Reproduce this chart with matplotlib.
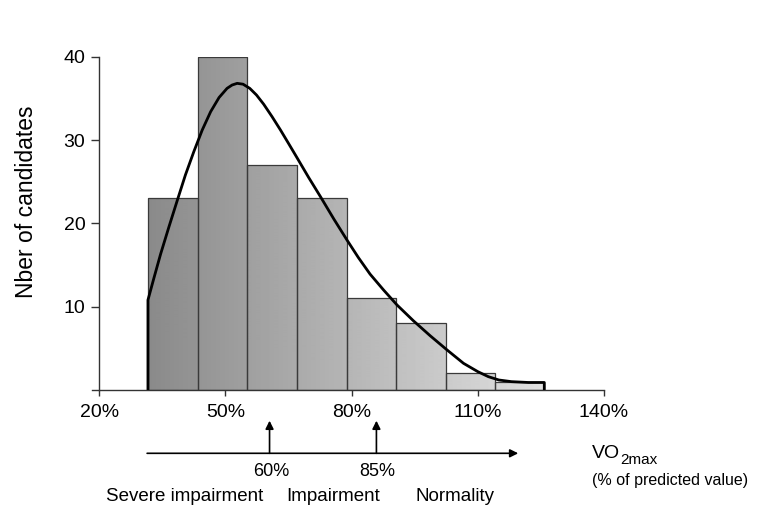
import numpy as np
import matplotlib
matplotlib.use("Agg")
import matplotlib.pyplot as plt

plt.rcParams['font.family'] = ['Liberation Sans', 'DejaVu Sans']

# histogram (VO2max % of predicted value)
bin_edges = [31.6, 43.4, 55.2, 67.0, 78.8, 90.6, 102.4, 114.1, 125.8]
counts = [23, 40, 27, 23, 11, 8, 2, 1]

# fitted density curve
curve_x = [31.6, 31.6, 33.0, 34.6, 36.6, 38.6, 40.5, 42.5, 44.5, 46.5, 48.5, 50.4,
           51.6, 52.8, 54.2, 55.8, 57.4, 59.1, 61.1, 63.1, 65.0, 67.0, 69.8, 72.6,
           75.8, 78.9, 81.6, 84.4, 87.6, 90.8, 94.7, 98.7, 102.7, 106.6, 110.0,
           112.5, 115.0, 118.0, 122.0, 125.8, 125.8]
curve_y = [0, 10.8, 13.4, 16.3, 19.6, 22.8, 25.8, 28.6, 31.2, 33.4, 35.1, 36.2,
           36.6, 36.8, 36.7, 36.2, 35.4, 34.3, 32.8, 31.2, 29.6, 27.9, 25.5, 23.2,
           20.5, 18.0, 15.9, 13.9, 12.0, 10.2, 8.3, 6.5, 4.8, 3.2, 2.2,
           1.6, 1.2, 1.0, 0.9, 0.9, 0]

xticks = [20, 50, 80, 110, 140]
xticklabels = ['20%', '50%', '80%', '110%', '140%']
yticks = [10, 20, 30, 40]

# classification thresholds
thresholds = [60.5, 85.9]
threshold_labels = ['60%', '85%']
classes = ['Severe impairment', 'Impairment', 'Normality']
class_x = [40.3, 75.7, 104.6]

fig = plt.figure(figsize=(7.65, 5.22), dpi=100)
ax = fig.add_axes([0.1208, 0.2529, 0.6688, 0.6385])

# bars with a grey gradient running left (dark) to right (light)
g_lo, g_hi = 0.54, 0.88
x0, x1 = bin_edges[0], bin_edges[-1]
for i, c in enumerate(counts):
    l, r = bin_edges[i], bin_edges[i + 1]
    bar = ax.bar(l, c, width=r - l, align='edge', facecolor='none',
                 edgecolor='#3a3a3a', linewidth=0.9, zorder=3)[0]
    v0 = g_lo + (g_hi - g_lo) * (l - x0) / (x1 - x0)
    v1 = g_lo + (g_hi - g_lo) * (r - x0) / (x1 - x0)
    grad = np.linspace(v0, v1, 50).reshape(1, -1)
    im = ax.imshow(grad, cmap='gray', vmin=0, vmax=1, aspect='auto',
                   extent=[l, r, 0, c], zorder=2)
    im.set_clip_path(bar)

ax.plot(curve_x, curve_y, color='black', linewidth=2.0, zorder=4,
        solid_joinstyle='round', solid_capstyle='butt')

ax.set_xlim(18.4, 140)
ax.set_ylim(0, 40)
ax.spines['top'].set_visible(False)
ax.spines['right'].set_visible(False)
ax.spines['left'].set_position(('data', 20))
for s in ['left', 'bottom']:
    ax.spines[s].set_color('#333333')
    ax.spines[s].set_linewidth(1.0)
ax.set_xticks(xticks)
ax.set_xticklabels(xticklabels)
ax.set_yticks(yticks)
ax.tick_params(axis='x', length=4, width=1, color='#333333', pad=6, labelsize=14)
ax.tick_params(axis='y', length=6, width=1, color='#333333', pad=4, labelsize=14)

fig.text(27 / 765, 1 - 201.7 / 522, 'Nber of candidates', rotation=90,
         ha='center', va='center', fontsize=16.5)

# bottom scale with arrows
line_y = 1 - 453.3 / 522
head_y = 1 - 420.7 / 522
ax.annotate('', xy=(119.6, line_y), xytext=(31.4, line_y),
            xycoords=('data', 'figure fraction'),
            textcoords=('data', 'figure fraction'), annotation_clip=False,
            arrowprops=dict(arrowstyle='-|>', color='black', lw=1.2,
                            mutation_scale=12, shrinkA=0, shrinkB=0))
for t, lab in zip(thresholds, threshold_labels):
    ax.annotate('', xy=(t, head_y), xytext=(t, line_y),
                xycoords=('data', 'figure fraction'),
                textcoords=('data', 'figure fraction'), annotation_clip=False,
                arrowprops=dict(arrowstyle='-|>', color='black', lw=1.2,
                                mutation_scale=12, shrinkA=0, shrinkB=0))
    ax.annotate(lab, xy=(t + 0.3, 1 - 471 / 522),
                xycoords=('data', 'figure fraction'), annotation_clip=False,
                ha='center', va='center', fontsize=13)
for cx, lab in zip(class_x, classes):
    ax.annotate(lab, xy=(cx, 1 - 496.7 / 522),
                xycoords=('data', 'figure fraction'), annotation_clip=False,
                ha='center', va='center', fontsize=13.5)

vo = fig.text(591.7 / 765, 1 - 453.3 / 522, 'VO', ha='left', va='center',
              fontsize=14)
ax.annotate('2max', xy=(1.0, 0.1), xycoords=vo, ha='left', va='center',
            fontsize=11)
fig.text(591.7 / 765, 1 - 480 / 522, '(% of predicted value)', ha='left',
         va='center', fontsize=11.5)

fig.savefig('out.png', dpi=100)
